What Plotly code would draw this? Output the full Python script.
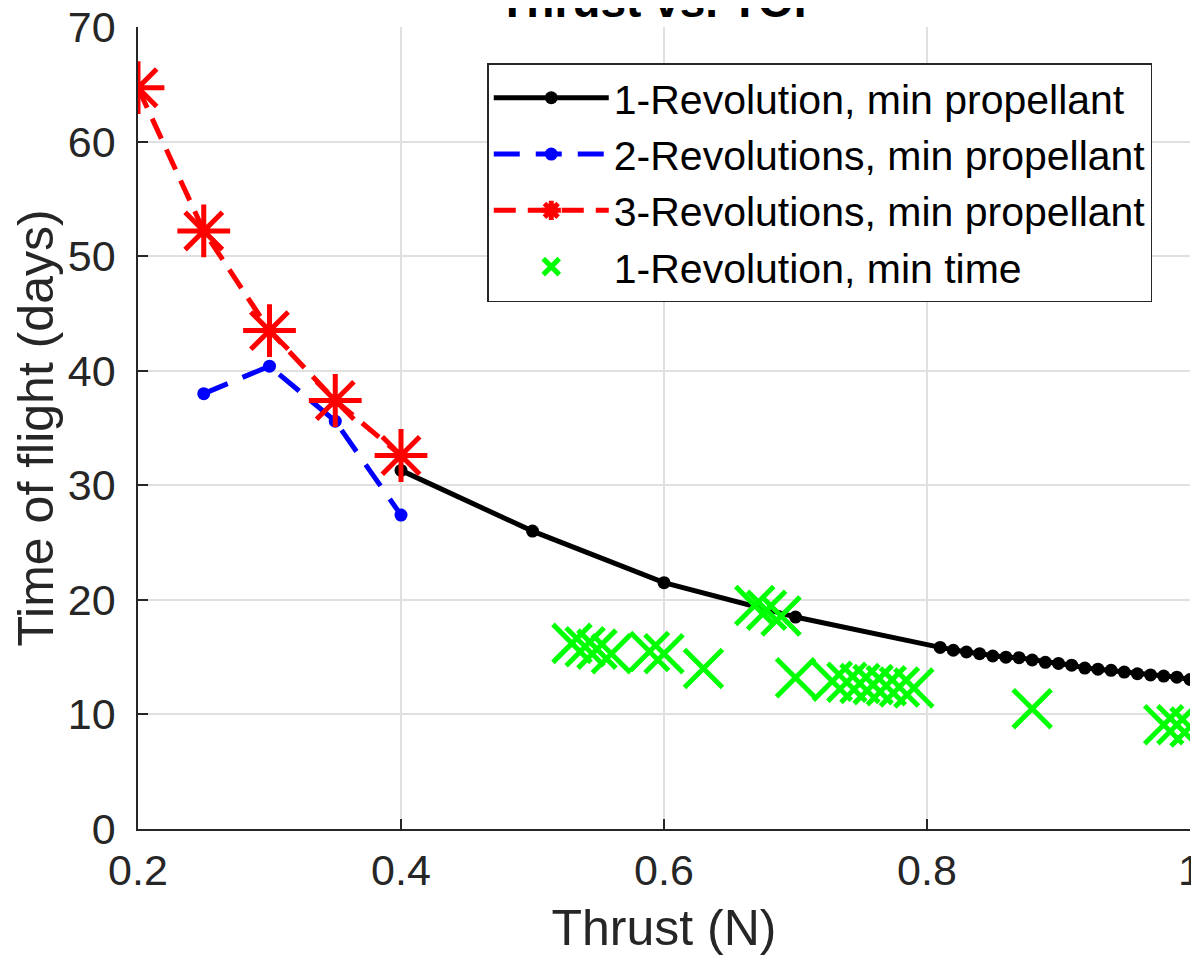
import plotly.graph_objects as go

# 1-Revolution, min propellant
thrust_1rev = [0.4, 0.5, 0.6, 0.7, 0.81, 0.82, 0.83, 0.84, 0.85, 0.86, 0.87, 0.88, 0.89, 0.90,
               0.91, 0.92, 0.93, 0.94, 0.95, 0.96, 0.97, 0.98, 0.99, 1.0]
tof_1rev = [31.3, 26.0, 21.5, 18.5, 15.85, 15.6, 15.45, 15.3, 15.1, 15.0, 14.95, 14.75, 14.55, 14.45,
            14.3, 14.05, 13.95, 13.85, 13.7, 13.55, 13.45, 13.35, 13.25, 13.05]

# 2-Revolutions, min propellant
thrust_2rev = [0.25, 0.3, 0.35, 0.4]
tof_2rev = [38.0, 40.4, 35.6, 27.4]

# 3-Revolutions, min propellant
thrust_3rev = [0.2, 0.25, 0.3, 0.35, 0.4]
tof_3rev = [64.7, 52.2, 43.5, 37.4, 32.6]

# 1-Revolution, min time
thrust_mintime = [0.53, 0.54, 0.549, 0.56, 0.589, 0.6, 0.63, 0.669, 0.678, 0.689, 0.70,
                  0.728, 0.739, 0.749, 0.759, 0.769, 0.779, 0.79, 0.88, 0.98, 0.99, 1.0]
tof_mintime = [16.2, 15.9, 15.7, 15.3, 15.5, 15.3, 14.0, 19.5, 19.1, 18.6, 13.2,
               12.9, 12.8, 12.7, 12.6, 12.5, 12.4, 12.3, 10.5, 9.1, 9.1, 8.9]

x_ticks = [0.2, 0.4, 0.6, 0.8, 1.0]
x_tick_labels = ["0.2", "0.4", "0.6", "0.8", "1"]
y_ticks = [0, 10, 20, 30, 40, 50, 60, 70]

FONT = "Liberation Sans, Arial, sans-serif"
TXT = "#262626"

fig = go.Figure()
fig.add_trace(go.Scatter(
    x=thrust_1rev, y=tof_1rev, mode="lines+markers",
    name="1-Revolution, min propellant",
    line=dict(color="black", width=5),
    marker=dict(color="black", size=13, symbol="circle"),
))
fig.add_trace(go.Scatter(
    x=thrust_2rev, y=tof_2rev, mode="lines+markers",
    name="2-Revolutions, min propellant",
    line=dict(color="#0000ff", width=5, dash="26px,16px"),
    marker=dict(color="#0000ff", size=13, symbol="circle"),
))
fig.add_trace(go.Scatter(
    x=thrust_3rev, y=tof_3rev, mode="lines+markers",
    name="3-Revolutions, min propellant",
    line=dict(color="#ff0000", width=5, dash="22px,12px"),
    marker=dict(color="#ff0000", size=44, symbol="asterisk-open",
                line=dict(color="#ff0000", width=5)),
))
fig.add_trace(go.Scatter(
    x=thrust_mintime, y=tof_mintime, mode="markers",
    name="1-Revolution, min time",
    marker=dict(color="#00ff00", size=38, symbol="x-thin-open",
                line=dict(color="#00ff00", width=5)),
))

fig.update_layout(
    width=1191, height=948,
    margin=dict(l=130, r=9, t=19, b=127),
    paper_bgcolor="white", plot_bgcolor="white",
    font=dict(family=FONT, color=TXT, size=43),
    title=dict(text="<b>Thrust vs. TOF</b>", x=0.5475, xanchor="center",
               y=0.991, yref="container", yanchor="bottom",
               font=dict(size=46, color="black", family=FONT)),
    showlegend=True,
    legend=dict(x=0.332, y=0.955, xanchor="left", yanchor="top",
                bgcolor="white", bordercolor="#262626", borderwidth=1.5,
                font=dict(size=41, color="black", family=FONT),
                itemwidth=115, tracegroupgap=0),
)
fig.update_xaxes(
    range=[0.2, 1.0], tickvals=x_ticks, ticktext=x_tick_labels,
    showgrid=True, gridcolor="#e0e0e0", gridwidth=1.5,
    showline=True, linecolor="#262626", linewidth=1.5,
    ticks="inside", ticklen=10, tickcolor="#262626", tickwidth=1.5,
    tickfont=dict(size=43, color=TXT), ticklabelstandoff=3,
    ticklabeloverflow="allow",
    title=dict(text="Thrust (N)", font=dict(size=50, color=TXT), standoff=27),
    zeroline=False, mirror=False, automargin=False,
)
fig.update_yaxes(
    range=[0, 70], tickvals=y_ticks,
    showgrid=True, gridcolor="#e0e0e0", gridwidth=1.5,
    showline=True, linecolor="#262626", linewidth=1.5,
    ticks="inside", ticklen=10, tickcolor="#262626", tickwidth=1.5,
    tickfont=dict(size=43, color=TXT), ticklabelstandoff=12,
    ticklabeloverflow="allow",
    title=dict(text="Time of flight (days)", font=dict(size=50, color=TXT), standoff=19),
    zeroline=False, mirror=False, automargin=False,
)

fig.write_html("out.html")
